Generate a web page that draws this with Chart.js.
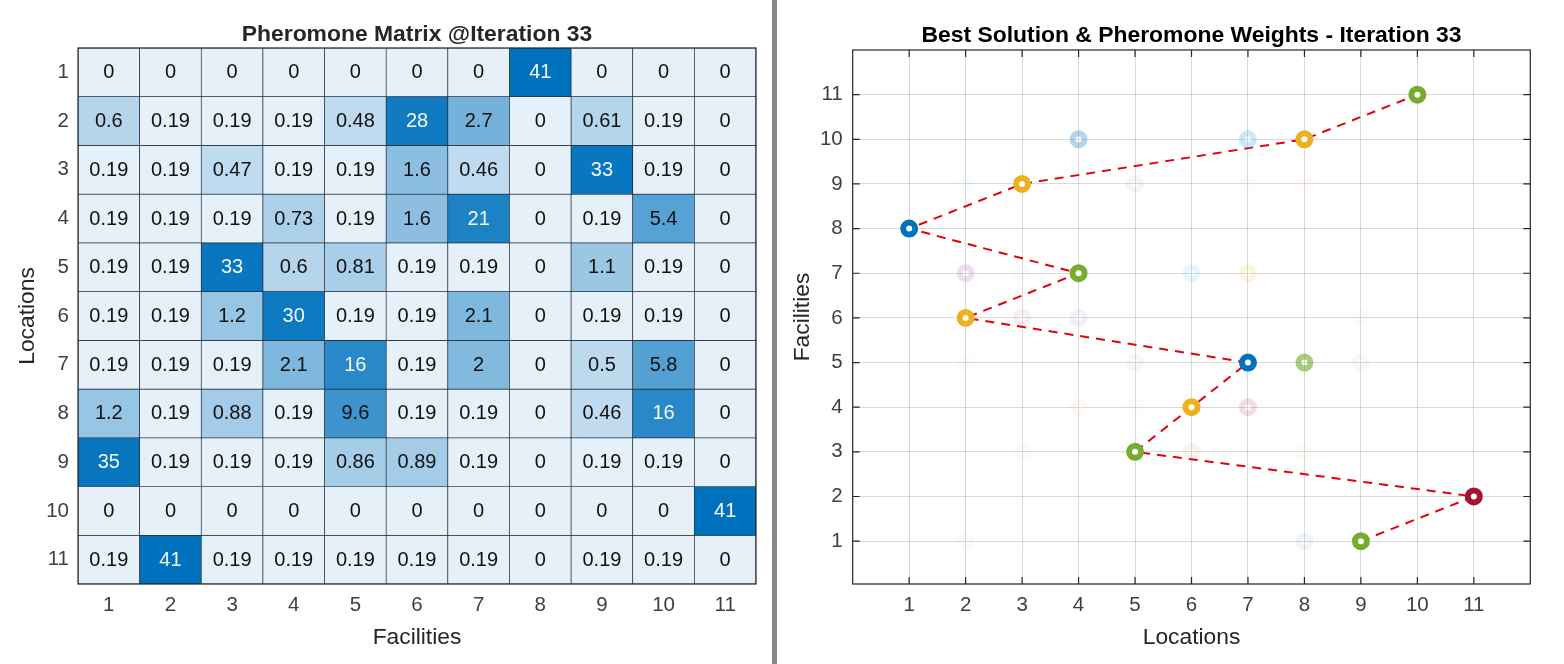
<!DOCTYPE html>
<html><head><meta charset="utf-8">
<script src="https://cdn.jsdelivr.net/npm/chart.js@4"></script>
<style>
html,body{margin:0;padding:0;background:#fff;overflow:hidden}
#a,#b{position:absolute;top:0}
#a{left:0}#b{left:777px}
#d{position:absolute;left:772px;top:0;width:5px;height:664px;background:#878787}
</style></head><body>
<div id="a"><canvas id="c1" width="772" height="664" style="width:772px;height:664px"></canvas></div>
<div id="d"></div>
<div id="b"><canvas id="c2" width="787" height="664" style="width:787px;height:664px"></canvas></div>
<script>
const indices=[1,2,3,4,5,6,7,8,9,10,11];
const row1=[0,0,0,0,0,0,0,41,0,0,0];
const row2=[0.6,0.19,0.19,0.19,0.48,28,2.7,0,0.61,0.19,0];
const row3=[0.19,0.19,0.47,0.19,0.19,1.6,0.46,0,33,0.19,0];
const row4=[0.19,0.19,0.19,0.73,0.19,1.6,21,0,0.19,5.4,0];
const row5=[0.19,0.19,33,0.6,0.81,0.19,0.19,0,1.1,0.19,0];
const row6=[0.19,0.19,1.2,30,0.19,0.19,2.1,0,0.19,0.19,0];
const row7=[0.19,0.19,0.19,2.1,16,0.19,2,0,0.5,5.8,0];
const row8=[1.2,0.19,0.88,0.19,9.6,0.19,0.19,0,0.46,16,0];
const row9=[35,0.19,0.19,0.19,0.86,0.89,0.19,0,0.19,0.19,0];
const row10=[0,0,0,0,0,0,0,0,0,0,41];
const row11=[0.19,41,0.19,0.19,0.19,0.19,0.19,0,0.19,0.19,0];
const matrix=[row1,row2,row3,row4,row5,row6,row7,row8,row9,row10,row11];
const bestLocations=[9,11,5,6,7,2,4,1,3,8,10];
const palette=['#A2142F','#0072BD','#D95319','#EDB120','#7E2F8E','#77AC30','#4DBEEE'];
const alphaAnchors=[[0,0],[0.19,0.004],[0.5,0.025],[0.9,0.05],[1.2,0.07],[1.6,0.075],[2,0.14],[2.7,0.15],[5.5,0.3],[9.6,0.62],[16,1]];
const FONT='"Liberation Sans",Arial,sans-serif';

function cellColor(v){
  const t=v<=0.19?0:Math.log(v/0.19)/Math.log(41/0.19);
  const a=[230,240,249],b=[0,114,189];
  return `rgb(${a.map((c,i)=>Math.round(c+(b[i]-c)*t)).join(',')})`;
}
function weightAlpha(v){
  for(let i=1;i<alphaAnchors.length;i++){
    const [x0,y0]=alphaAnchors[i-1],[x1,y1]=alphaAnchors[i];
    if(v<=x1) return y0+(y1-y0)*(v-x0)/(x1-x0);
  }
  return 1;
}
function hexA(h,a){
  const n=parseInt(h.slice(1),16);
  return `rgba(${n>>16},${(n>>8)&255},${n&255},${a})`;
}
const cellLabels={id:'cellLabels',afterDatasetsDraw(ch){
  const g=ch.ctx;g.save();
  g.textAlign='center';g.textBaseline='middle';g.font='20px '+FONT;
  ch.data.datasets.forEach((ds,r)=>{
    ch.getDatasetMeta(r).data.forEach((el,c)=>{
      const v=matrix[r][c];
      g.fillStyle=v>=16?'#f4f8fc':'#111';
      g.fillText(String(v),el.x,(el.y+el.base)/2+0.5);
    });
  });
  g.restore();
}};
const frame={id:'frame',afterDatasetsDraw(ch,args,opt){
  const g=ch.ctx,a=ch.chartArea;g.save();
  g.strokeStyle='#262626';g.lineWidth=1.2;
  g.strokeRect(a.left,a.top,a.right-a.left,a.bottom-a.top);
  if(opt.ticks){
    g.beginPath();
    indices.forEach(v=>{
      const x=ch.scales.x.getPixelForValue(v),y=ch.scales.y.getPixelForValue(v);
      g.moveTo(x,a.top);g.lineTo(x,a.top+7);
      g.moveTo(x,a.bottom);g.lineTo(x,a.bottom-7);
      g.moveTo(a.left,y);g.lineTo(a.left+7,y);
      g.moveTo(a.right,y);g.lineTo(a.right-7,y);
    });
    g.stroke();
  }
  g.restore();
}};
Chart.defaults.animation=false;
Chart.defaults.responsive=false;
Chart.defaults.font.family=FONT;

new Chart(document.getElementById('c1'),{
  type:'bar',
  data:{labels:indices.map(String),datasets:matrix.map((row,r)=>({
    data:row.map(()=>[indices[r]-0.5,indices[r]+0.5]),
    backgroundColor:row.map(cellColor),
    borderColor:'#1f2d3a',borderWidth:0.7,borderSkipped:false,
    barPercentage:1,categoryPercentage:1,grouped:false
  }))},
  plugins:[cellLabels,frame],
  options:{
    devicePixelRatio:1,
    layout:{padding:{left:14,right:16,top:0,bottom:13}},
    plugins:{legend:{display:false},tooltip:{enabled:false},
      title:{display:true,fullSize:false,text:'Pheromone Matrix @Iteration 33',color:'#262626',
        font:{size:22.9,weight:'bold',family:FONT},padding:{top:20.5,bottom:0}},
      frame:{ticks:false}},
    scales:{
      x:{type:'category',grid:{display:false,drawTicks:false},border:{display:false},
        ticks:{color:'#404040',font:{size:20.5},padding:9,maxRotation:0},
        title:{display:true,text:'Facilities',color:'#262626',font:{size:22.8},padding:{top:2,bottom:0}},
        afterFit(s){s.height=67;}},
      y:{type:'linear',reverse:true,min:0.5,max:11.5,grid:{display:false,drawTicks:false},border:{display:false},
        afterBuildTicks(s){s.ticks=indices.map(v=>({value:v}));},
        ticks:{color:'#404040',font:{size:20.5},padding:9,callback:v=>String(v)},
        title:{display:true,text:'Locations',color:'#262626',font:{size:22.8},padding:{top:0,bottom:4}},
        afterFit(s){s.width=64;}}
    }
  }
});

const faded=[],fadedColors=[];
matrix.forEach((row,r)=>row.forEach((v,c)=>{
  if(bestLocations[c]===indices[r]) return;
  const a=weightAlpha(v);
  if(a<=0) return;
  faded.push({x:indices[r],y:indices[c]});
  fadedColors.push(hexA(palette[((r*11)+c+1)%7],a.toFixed(3)));
}));
const best=bestLocations.map((loc,i)=>({x:loc,y:indices[i]}));
const bestColors=bestLocations.map((loc,i)=>palette[(((loc-1)*11)+indices[i])%7]);

new Chart(document.getElementById('c2'),{
  type:'scatter',
  data:{datasets:[
    {data:faded,borderColor:fadedColors,backgroundColor:'transparent',pointRadius:6,pointBorderWidth:6,showLine:false},
    {data:best,borderColor:bestColors,backgroundColor:'#fff',pointRadius:6,pointBorderWidth:6,showLine:false},
    {data:best,showLine:true,pointRadius:0,borderColor:'#e3000f',borderWidth:2,borderDash:[9,7],tension:0,fill:false}
  ]},
  plugins:[frame],
  options:{
    devicePixelRatio:1,
    layout:{padding:{left:12,right:33.7,top:0,bottom:13}},
    plugins:{legend:{display:false},tooltip:{enabled:false},
      title:{display:true,fullSize:false,text:'Best Solution & Pheromone Weights - Iteration 33',color:'#000',
        font:{size:22.9,weight:'bold',family:FONT},padding:{top:21.5,bottom:1}},
      frame:{ticks:true}},
    scales:{
      x:{type:'linear',min:0,max:12,
        afterBuildTicks(s){s.ticks=indices.map(v=>({value:v}));},
        grid:{color:'rgba(38,38,38,0.17)',drawTicks:false},border:{display:false},
        ticks:{color:'#404040',font:{size:20.5},padding:9,maxRotation:0,callback:v=>String(v)},
        title:{display:true,text:'Locations',color:'#262626',font:{size:22.8},padding:{top:2,bottom:0}},
        afterFit(s){s.height=67;}},
      y:{type:'linear',min:0.04,max:12,
        afterBuildTicks(s){s.ticks=indices.map(v=>({value:v}));},
        grid:{color:'rgba(38,38,38,0.17)',drawTicks:false},border:{display:false},
        ticks:{color:'#404040',font:{size:20.5},padding:10,callback:v=>String(v)},
        title:{display:true,text:'Facilities',color:'#262626',font:{size:22.8},padding:{top:0,bottom:4}},
        afterFit(s){s.width=63.7;}}
    }
  }
});
</script>
</body></html>
